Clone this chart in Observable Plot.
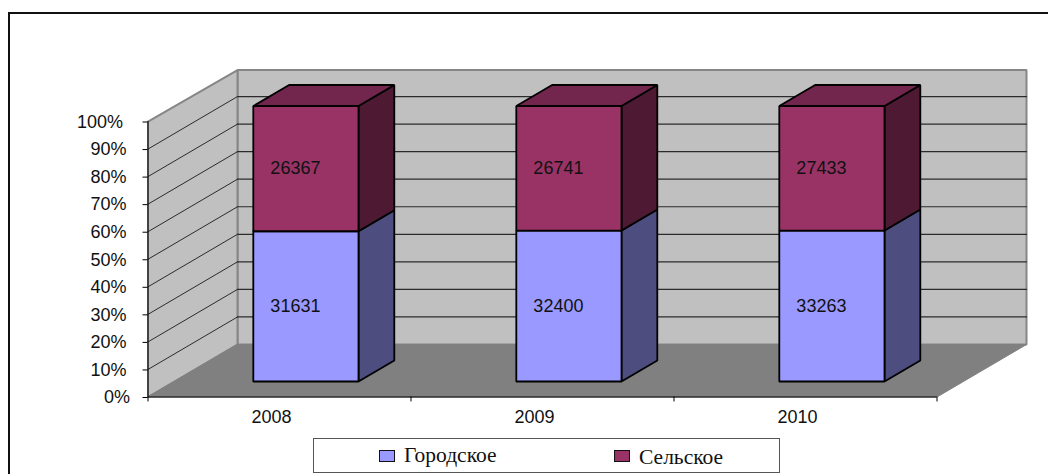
<!DOCTYPE html>
<html>
<head>
<meta charset="utf-8">
<script src="https://cdn.jsdelivr.net/npm/d3@7"></script>
<script src="https://cdn.jsdelivr.net/npm/@observablehq/plot@0.6"></script>
<style>
html,body{margin:0;padding:0;background:#fff;overflow:hidden}
#page{position:relative;width:1048px;height:474px;overflow:hidden}
#frame{position:absolute;left:8px;top:12px;right:-10px;bottom:-10px;border:2px solid #111;box-sizing:border-box;pointer-events:none}
#legend{position:absolute;left:313px;top:438px;width:467px;height:35px;box-sizing:border-box;border:1px solid #555;background:#fff;font-family:"Liberation Serif",serif;font-size:21.5px;color:#111}
#legend .sw{position:absolute;width:14px;height:10px;border:1.5px solid #111}
#legend .tx{position:absolute;white-space:nowrap;line-height:24px}
#chart svg{display:block}
</style>
</head>
<body>
<div id="page"><div id="chart"></div><div id="frame"></div><div id="legend"></div></div>
<script>
const years = ["2008", "2009", "2010"];
const urban = [31631, 32400, 33263];
const rural = [26367, 26741, 27433];
const seriesNames = ["Городское", "Сельское"];
const frontColors = ["#9999ff", "#993366"];
const sideColors = ["#4d4d80", "#4d1933"];
const topColor = "#73264d";
const yTicks = [0, 10, 20, 30, 40, 50, 60, 70, 80, 90, 100];

// oblique projection: depth z (0 front, 1 back) shifts a point in data units
const DX = 0.3403, DY = 19.06;
const Z0 = 0.295, Z1 = 0.695, L = 0.3, R = 0.7;
const pt = (c, v, z) => ({x: c + z * DX, y: v + z * DY});
const poly = (id, pts) => pts.map(p => ({...pt(...p), id}));
const face = (rows, fill, stroke, strokeWidth = 1) =>
  Plot.line(rows, {x: "x", y: "y", z: "id", fill, stroke, strokeWidth, curve: "linear-closed", strokeLinejoin: "miter"});

const stacks = years.map((year, i) => {
  const split = urban[i] / (urban[i] + rural[i]) * 100;
  return {year, i, split};
});

const fronts = [[], []], sides = [[], []], tops = [];
for (const {i, split} of stacks) {
  const a = i + L, b = i + R;
  const seg = [[0, split], [split, 100]];
  seg.forEach(([v0, v1], s) => {
    fronts[s].push(...poly(`f${i}${s}`, [[a, v0, Z0], [b, v0, Z0], [b, v1, Z0], [a, v1, Z0]]));
    sides[s].push(...poly(`s${i}${s}`, [[b, v0, Z0], [b, v0, Z1], [b, v1, Z1], [b, v1, Z0]]));
  });
  tops.push(...poly(`t${i}`, [[a, 100, Z0], [b, 100, Z0], [b, 100, Z1], [a, 100, Z1]]));
}

const labels = stacks.flatMap(({i, split}) => [
  {x: pt(i + 0.5, 0, Z0).x, y: pt(0, split / 2, Z0).y, t: urban[i]},
  {x: pt(i + 0.5, 0, Z0).x, y: pt(0, (split + 100) / 2, Z0).y, t: rural[i]}
]);

const wall = "#c0c0c0", floor = "#808080", edge = "#868686", grid = "#2b2b2b";
const gridBack = yTicks.filter(v => v > 0 && v < 100);

const plot = Plot.plot({
  width: 1048,
  height: 438,
  marginLeft: 147.5,
  marginRight: 22,
  marginTop: 68.5,
  marginBottom: 41.5,
  style: {fontFamily: "'Liberation Sans', Arial, sans-serif", fontSize: "18px", color: "#111", background: "transparent"},
  x: {type: "linear", domain: [0, 3 + DX], axis: null},
  y: {type: "linear", domain: [0, 100 + DY], axis: null},
  marks: [
    face(poly("back", [[0, 0, 1], [3, 0, 1], [3, 99.6, 1], [0, 99.6, 1]]), wall, edge, 2),
    face(poly("side", [[0, 0, 0], [0, 0, 1], [0, 99.6, 1], [0, 100, 0]]), wall, edge, 2),
    face(poly("floor", [[0, 0, 0], [3, 0, 0], [3, 0, 1], [0, 0, 1]]), floor, floor, 1),
    Plot.line(gridBack.flatMap(v => poly(`gb${v}`, [[0, v, 1], [3, v, 1]])), {x: "x", y: "y", z: "id", stroke: grid, strokeWidth: 1.2}),
    Plot.line(gridBack.flatMap(v => poly(`gs${v}`, [[0, v, 0], [0, v, 1]])), {x: "x", y: "y", z: "id", stroke: grid, strokeWidth: 1}),
    Plot.ruleY([0], {x1: 0, x2: 3, stroke: "#000", strokeWidth: 1}),
    Plot.ruleX([0], {y1: 0, y2: 100, stroke: "#000", strokeWidth: 1}),
    Plot.axisY({ticks: [100], tickSize: 5, tickPadding: 20, tickFormat: d => d + "%", label: null, stroke: "#000", dy: 0.5}),
    Plot.axisY({ticks: gridBack, tickSize: 5, tickPadding: 16.5, tickFormat: d => d + "%", label: null, stroke: "#000", dy: 0.5}),
    Plot.axisY({ticks: [0], tickSize: 5, tickPadding: 13, tickFormat: d => d + "%", label: null, stroke: "#000", dy: 0.5}),
    Plot.ruleX([0, 1, 2, 3], {y1: 0, y2: -1.8, stroke: "#000", strokeWidth: 1}),
    Plot.axisX({ticks: stacks.map(d => d.i + 0.5), tickSize: 0, tickPadding: 13.5, tickFormat: d => years[d - 0.5], label: null, dx: -8}),
    face(sides[0], sideColors[0], "#000", 1.8),
    face(sides[1], sideColors[1], "#000", 1.8),
    face(tops, topColor, "#000", 1.8),
    face(fronts[0], frontColors[0], "#000", 1.8),
    face(fronts[1], frontColors[1], "#000", 1.8),
    Plot.text(labels, {x: "x", y: "y", text: d => String(d.t), dx: -10.5, fill: "#111", fontSize: 18})
  ]
});
document.getElementById("chart").appendChild(plot);

const legend = document.getElementById("legend");
const swatchX = [65, 300], textX = [90, 325], swatchY = [11, 11], textY = [4, 6];
seriesNames.forEach((name, s) => {
  const sw = document.createElement("span");
  sw.className = "sw";
  sw.style.cssText = `left:${swatchX[s]}px;top:${swatchY[s]}px;background:${frontColors[s]}`;
  const tx = document.createElement("span");
  tx.className = "tx";
  tx.style.cssText = `left:${textX[s]}px;top:${textY[s]}px`;
  tx.textContent = name;
  legend.append(sw, tx);
});
</script>
</body>
</html>
